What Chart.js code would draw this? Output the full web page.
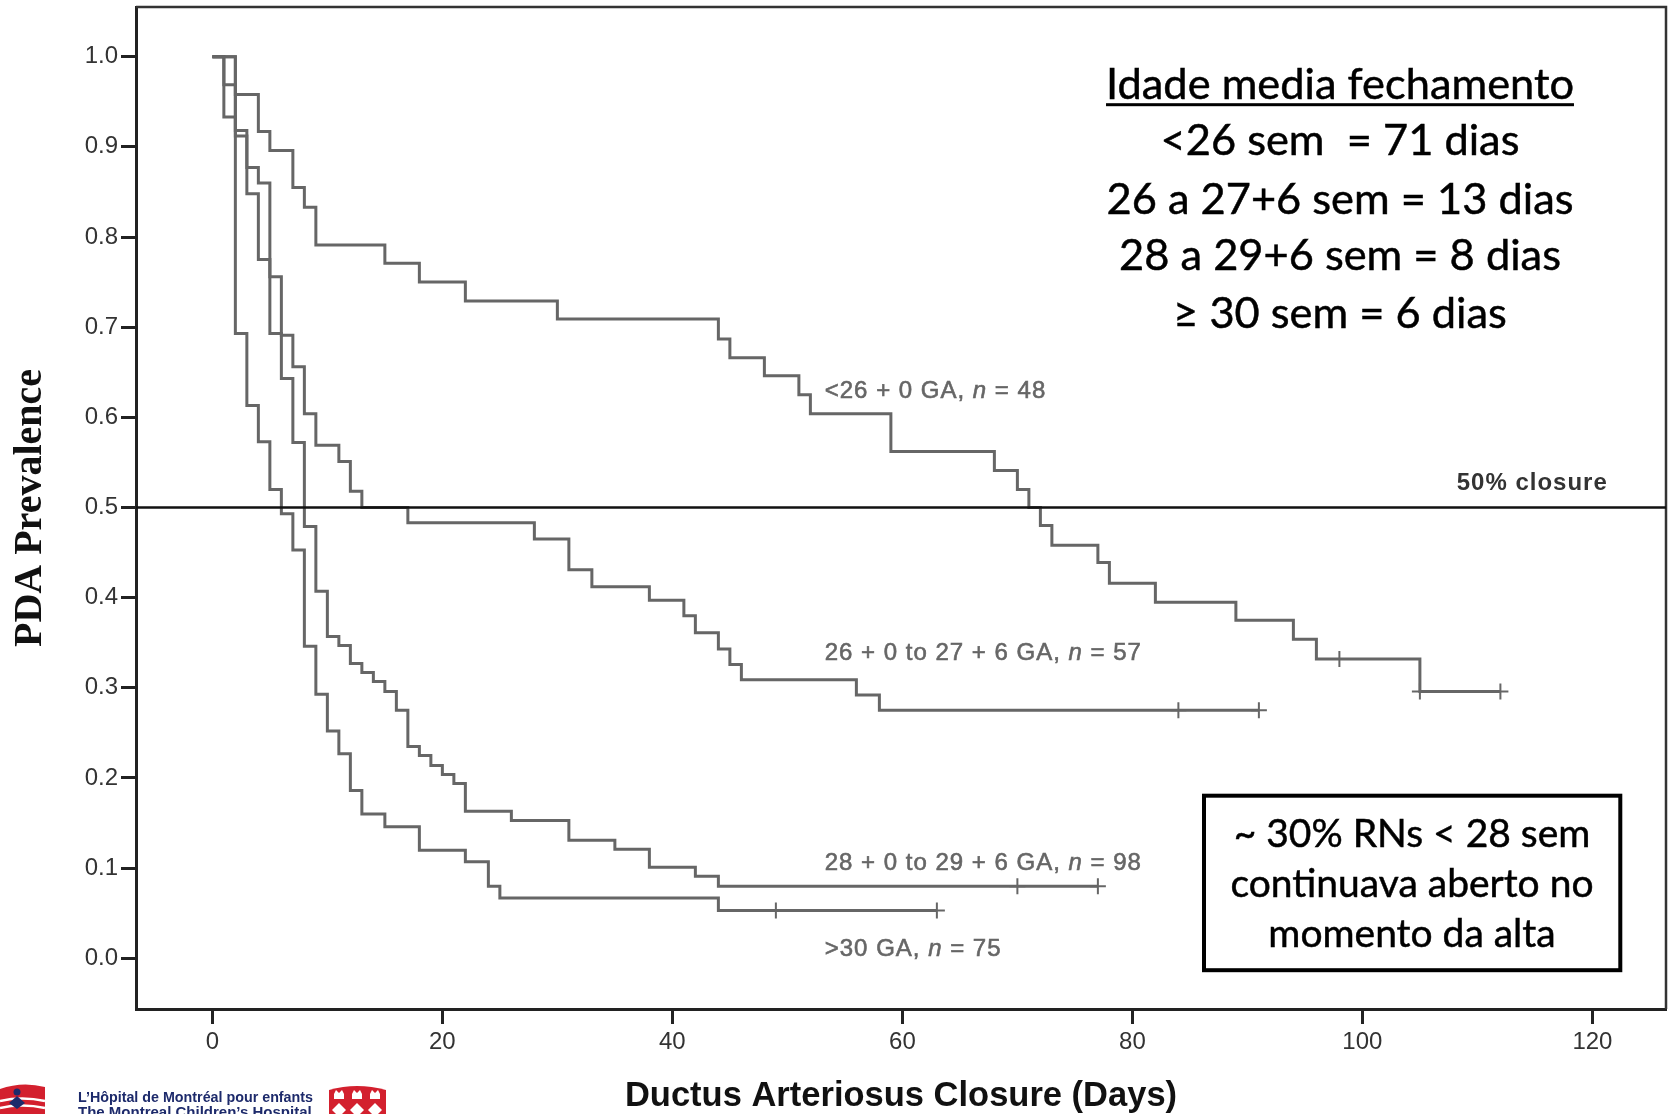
<!DOCTYPE html>
<html><head><meta charset="utf-8">
<script src="https://cdn.jsdelivr.net/npm/chart.js@4.4.1/dist/chart.umd.min.js"></script>
<style>html,body{margin:0;padding:0;background:#fff;overflow:hidden}canvas{display:block}</style>
</head><body>
<canvas id="c" width="1668" height="1114"></canvas>
<script>
// ---------------- DATA ----------------
const xTickValues = [0, 20, 40, 60, 80, 100, 120];
const yTickValues = [0.0, 0.1, 0.2, 0.3, 0.4, 0.5, 0.6, 0.7, 0.8, 0.9, 1.0];

// <26 + 0 GA (n = 48)
const daysLt26 = [0, 2, 4, 5, 7, 8, 9, 15, 18, 22, 30, 44, 45, 48, 51, 52, 59, 68, 70, 71, 72, 73, 77, 78, 82, 89, 94, 96, 105, 112];
const prevLt26 = [1.0, 0.958, 0.917, 0.896, 0.855, 0.833, 0.791, 0.771, 0.750, 0.729, 0.709, 0.687, 0.666, 0.646, 0.625, 0.604, 0.562, 0.541, 0.520, 0.500, 0.480, 0.458, 0.439, 0.416, 0.395, 0.375, 0.354, 0.332, 0.296, 0.296];
const censDaysLt26 = [98, 105, 112];
const censPrevLt26 = [0.332, 0.296, 0.296];

// 26 + 0 to 27 + 6 GA (n = 57)
const days26to27 = [0, 2, 3, 4, 5, 6, 7, 8, 9, 11, 12, 13, 17, 28, 31, 33, 38, 41, 42, 44, 45, 46, 56, 58, 91];
const prev26to27 = [1.0, 0.912, 0.877, 0.860, 0.756, 0.691, 0.656, 0.604, 0.569, 0.551, 0.518, 0.500, 0.483, 0.465, 0.431, 0.412, 0.397, 0.380, 0.361, 0.343, 0.326, 0.309, 0.292, 0.275, 0.275];
const censDays26to27 = [84, 91];
const censPrev26to27 = [0.275, 0.275];

// 28 + 0 to 29 + 6 GA (n = 98)
const days28to29 = [0, 1, 2, 3, 4, 5, 6, 7, 8, 9, 10, 11, 12, 13, 14, 15, 16, 17, 18, 19, 20, 21, 22, 26, 31, 35, 38, 42, 44, 77];
const prev28to29 = [1.0, 0.969, 0.918, 0.848, 0.775, 0.693, 0.643, 0.572, 0.479, 0.407, 0.357, 0.347, 0.327, 0.317, 0.307, 0.296, 0.275, 0.235, 0.225, 0.214, 0.204, 0.194, 0.163, 0.153, 0.131, 0.121, 0.101, 0.091, 0.080, 0.080];
const censDays28to29 = [70, 77];
const censPrev28to29 = [0.080, 0.080];

// >30 GA (n = 75)
const daysGt30 = [0, 1, 2, 3, 4, 5, 6, 7, 8, 9, 10, 11, 12, 13, 15, 18, 22, 24, 25, 44, 63];
const prevGt30 = [1.0, 0.933, 0.693, 0.613, 0.573, 0.520, 0.493, 0.453, 0.346, 0.293, 0.252, 0.227, 0.186, 0.160, 0.146, 0.120, 0.107, 0.080, 0.067, 0.053, 0.053];
const censDaysGt30 = [49, 63];
const censPrevGt30 = [0.053, 0.053];

const referenceValue = 0.5;
const referenceLabel = '50% closure';

const curveLabelPrefix = ['<26 + 0 GA, ', '26 + 0 to 27 + 6 GA, ', '28 + 0 to 29 + 6 GA, ', '>30 GA, '];
const curveLabelN = ['48', '57', '98', '75'];

const xAxisTitle = 'Ductus Arteriosus Closure (Days)';
const yAxisTitle = 'PDA Prevalence';

const medianTitle = 'Idade media fechamento';
const medianLines = ['<26 sem  = 71 dias', '26 a 27+6 sem = 13 dias', '28 a 29+6 sem = 8 dias', '\u2265 30 sem = 6 dias'];
const boxLines = ['~ 30% RNs < 28 sem', 'continuava aberto no', 'momento da alta'];
const logoLines = ['L\u2019H\u00f4pital de Montr\u00e9al pour enfants', 'The Montreal Children\u2019s Hospital'];

// ---------------- STYLE ----------------
const SANS = '"Liberation Sans", Arial, Helvetica, sans-serif';
const SERIF = '"Liberation Serif", "Times New Roman", serif';
const CAL = 'Lato, "Open Sans", "Noto Sans", sans-serif';
const X_MIN = -6.64, X_MAX = 126.4;
const Y_MIN = -0.0562, Y_MAX = 1.0551;
const CURVE_COLOR = '#666';

function pts(days, vals) { return days.map((d, i) => ({ x: d, y: vals[i] })); }

function curve(days, vals) {
  return { data: pts(days, vals), borderColor: CURVE_COLOR, borderWidth: 3, pointRadius: 0,
    stepped: true, fill: false, borderJoinStyle: 'miter', borderCapStyle: 'butt' };
}
function censor(days, vals) {
  return { data: pts(days, vals), showLine: false, pointStyle: 'cross', pointRadius: 8,
    pointHoverRadius: 8, pointBorderWidth: 2, pointBorderColor: CURVE_COLOR, borderColor: CURVE_COLOR };
}

const datasets = [
  { data: [{ x: X_MIN, y: referenceValue }, { x: X_MAX, y: referenceValue }], borderColor: '#111', borderWidth: 2.5, pointRadius: 0 },
  curve(daysLt26, prevLt26), curve(days26to27, prev26to27), curve(days28to29, prev28to29), curve(daysGt30, prevGt30),
  censor(censDaysLt26, censPrevLt26), censor(censDays26to27, censPrev26to27), censor(censDays28to29, censPrev28to29), censor(censDaysGt30, censPrevGt30)
];

function fitSizeMulti(ctx, texts, targets, fontFn) {
  ctx.font = fontFn(100);
  let sum = 0;
  texts.forEach((t, i) => { sum += 100 * targets[i] / ctx.measureText(t).width; });
  return sum / texts.length;
}

function noPad(s) { s.paddingTop = 0; s.paddingBottom = 0; s.paddingLeft = 0; s.paddingRight = 0; }

const framePlugin = {
  id: 'frame',
  beforeDatasetsDraw(chart) {
    const { ctx, chartArea: a } = chart;
    ctx.save();
    ctx.strokeStyle = '#333';
    ctx.lineWidth = 2.5;
    ctx.beginPath();
    ctx.moveTo(a.left, a.top); ctx.lineTo(a.right, a.top); ctx.lineTo(a.right, a.bottom);
    ctx.stroke();
    ctx.restore();
  }
};

const annotationPlugin = {
  id: 'annot',
  afterDraw(chart) {
    const { ctx } = chart;
    const xs = chart.scales.x, ys = chart.scales.y;
    ctx.save();
    const hasLS = 'letterSpacing' in ctx;

    // curve labels
    const labelDay = 53.25;
    const labelVals = [0.622, 0.3312, 0.0979, 0.0026];
    ctx.fillStyle = '#666';
    ctx.strokeStyle = '#666';
    ctx.lineWidth = 0.6;
    ctx.textBaseline = 'alphabetic';
    ctx.textAlign = 'left';
    if (hasLS) ctx.letterSpacing = '1px';
    for (let i = 0; i < 4; i++) {
      let x = xs.getPixelForValue(labelDay);
      const y = ys.getPixelForValue(labelVals[i]);
      const parts = [[curveLabelPrefix[i], ''], ['n', 'italic '], [' = ' + curveLabelN[i], '']];
      for (const [t, st] of parts) {
        ctx.font = st + '24px ' + SANS;
        ctx.fillText(t, x, y);
        ctx.strokeText(t, x, y);
        x += ctx.measureText(t).width;
      }
    }
    // 50% closure
    ctx.font = 'bold 24px ' + SANS;
    ctx.fillStyle = '#333';
    ctx.fillText(referenceLabel, xs.getPixelForValue(108.2), ys.getPixelForValue(0.5194));
    if (hasLS) ctx.letterSpacing = '0px';

    // median block
    ctx.fillStyle = '#000';
    ctx.strokeStyle = '#000';
    ctx.lineWidth = 0.5;
    ctx.textAlign = 'center';
    const calFont = s => s + 'px ' + CAL;
    const topSize = fitSizeMulti(ctx, [medianTitle].concat(medianLines), [485.6, 356, 462, 437.5, 331], calFont);
    ctx.font = calFont(topSize);
    const cx = 1340;
    const baselines = [99.3, 155.4, 213.6, 270.4, 327.9];
    ctx.fillText(medianTitle, cx, baselines[0]);
    ctx.strokeText(medianTitle, cx, baselines[0]);
    const tw = ctx.measureText(medianTitle).width;
    ctx.fillRect(cx - tw / 2, 103.2, tw, 3);
    for (let i = 0; i < medianLines.length; i++) {
      ctx.fillText(medianLines[i], cx, baselines[i + 1]);
      ctx.strokeText(medianLines[i], cx, baselines[i + 1]);
    }

    // box
    ctx.lineWidth = 4;
    ctx.strokeRect(1204, 795.7, 416.3, 174.5);
    const boxSize = fitSizeMulti(ctx, boxLines, [346.5, 367, 292.5], calFont);
    ctx.font = calFont(boxSize);
    ctx.lineWidth = 0.5;
    const bb = [846.5, 897.4, 947];
    for (let i = 0; i < boxLines.length; i++) {
      ctx.fillText(boxLines[i], 1412, bb[i]);
      ctx.strokeText(boxLines[i], 1412, bb[i]);
    }

    // logos
    ctx.textAlign = 'left';
    ctx.fillStyle = '#d3202e';
    ctx.beginPath();
    ctx.moveTo(0, 1089); ctx.quadraticCurveTo(22, 1081, 45, 1087); ctx.lineTo(45, 1114); ctx.lineTo(0, 1114); ctx.closePath(); ctx.fill();
    ctx.strokeStyle = '#fff'; ctx.lineWidth = 2.5;
    for (const yy of [1101, 1108]) { ctx.beginPath(); ctx.moveTo(0, yy); ctx.quadraticCurveTo(22, yy - 5, 45, yy); ctx.stroke(); }
    ctx.fillStyle = '#1d2a6b';
    ctx.beginPath(); ctx.arc(17, 1092, 3.5, 0, Math.PI * 2); ctx.fill();
    ctx.beginPath(); ctx.moveTo(9, 1103); ctx.lineTo(17, 1096); ctx.lineTo(25, 1103); ctx.lineTo(17, 1109); ctx.closePath(); ctx.fill();

    ctx.fillStyle = '#1d2a6b';
    ctx.font = 'bold 15px ' + SANS;
    ctx.fillText(logoLines[0], 78, 1102, 235);
    ctx.fillText(logoLines[1], 78, 1117, 235);

    ctx.fillStyle = '#d3202e';
    ctx.beginPath();
    ctx.moveTo(329, 1114); ctx.lineTo(329, 1090); ctx.quadraticCurveTo(357, 1082, 386, 1090); ctx.lineTo(386, 1114); ctx.closePath(); ctx.fill();
    ctx.fillStyle = '#fff';
    for (const ix of [339, 357, 375]) {
      ctx.fillRect(ix - 5, 1094, 10, 5);
      ctx.beginPath(); ctx.moveTo(ix - 5, 1094); ctx.lineTo(ix - 3, 1090); ctx.lineTo(ix, 1093); ctx.lineTo(ix + 3, 1090); ctx.lineTo(ix + 5, 1094); ctx.fill();
      ctx.beginPath(); ctx.moveTo(ix, 1103); ctx.lineTo(ix + 7, 1110); ctx.lineTo(ix, 1117); ctx.lineTo(ix - 7, 1110); ctx.closePath(); ctx.fill();
    }
    ctx.restore();
  }
};

const ctx = document.getElementById('c').getContext('2d');
new Chart(ctx, {
  type: 'line',
  data: { datasets },
  options: {
    responsive: false, animation: false, devicePixelRatio: 1,
    layout: { autoPadding: false, padding: { top: 7, right: 2, left: 0, bottom: 0 } },
    plugins: { legend: { display: false }, tooltip: { enabled: false } },
    scales: {
      x: {
        type: 'linear', min: X_MIN, max: X_MAX,
        afterBuildTicks: s => { s.ticks = xTickValues.map(v => ({ value: v })); },
        afterFit: s => { s.height = 105; noPad(s); },
        ticks: { font: { family: SANS, size: 24 }, color: '#333', padding: 4, maxRotation: 0, autoSkip: false, callback: v => String(v) },
        grid: { drawOnChartArea: false, drawTicks: true, tickLength: 15, tickWidth: 3, tickColor: '#222' },
        border: { display: true, color: '#222', width: 3 },
        title: { display: true, text: xAxisTitle, font: { family: SANS, size: 34.5, weight: 'bold' }, color: '#111', padding: { top: 0, bottom: -3 } }
      },
      y: {
        type: 'linear', min: Y_MIN, max: Y_MAX,
        afterBuildTicks: s => { s.ticks = yTickValues.map(v => ({ value: v })); },
        afterFit: s => { s.width = 136; noPad(s); },
        ticks: { font: { family: SANS, size: 24 }, color: '#333', padding: 3, autoSkip: false, callback: v => Number(v).toFixed(1) },
        grid: { drawOnChartArea: false, drawTicks: true, tickLength: 15, tickWidth: 3, tickColor: '#222' },
        border: { display: true, color: '#222', width: 3 },
        title: { display: true, text: yAxisTitle, font: { family: SERIF, size: 40, weight: 'bold' }, color: '#111', padding: { top: 7, bottom: 0 } }
      }
    }
  },
  plugins: [framePlugin, annotationPlugin]
});
</script>
</body></html>
